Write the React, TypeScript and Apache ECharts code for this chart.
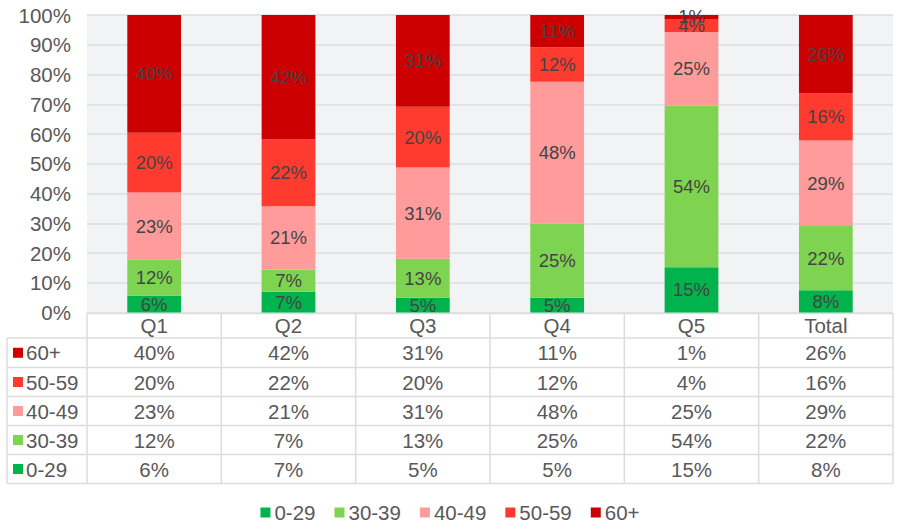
import React, { useEffect, useRef } from "react";
import * as echarts from "echarts";

const categories = ["Q1", "Q2", "Q3", "Q4", "Q5", "Total"];
const seriesNames = ["0-29", "30-39", "40-49", "50-59", "60+"];
// shares (labels show them rounded)
const v0_29 = [5.6, 6.95, 4.93, 4.93, 15.25, 7.51];
const v30_39 = [12.1, 7.4, 13.1, 24.9, 54.25, 21.6];
const v40_49 = [22.6, 21.4, 30.7, 47.76, 24.78, 28.74];
const v50_59 = [20.1, 22.4, 20.4, 11.55, 4.4, 15.8];
const v60p = [39.6, 41.85, 30.87, 10.86, 1.32, 26.35];
const yTicks = { min: 0, max: 100, interval: 10 };
const colors = ["#00b34c", "#7ed450", "#ff9b9b", "#ff3a2f", "#cc0000"];

const FONT = "Liberation Sans, Arial, Helvetica, sans-serif";
const TEXT = "#595959";
const FS = 20.5;

const pct = (v: number) => `${Math.round(v)}%`;

export default function App() {
  const ref = useRef<HTMLDivElement>(null);
  useEffect(() => {
    if (!ref.current) return;
    const chart = echarts.init(ref.current, null, { renderer: "svg" });
    const values = [v0_29, v30_39, v40_49, v50_59, v60p];

    const W = 900;
    const gridLeft = 87;
    const gridRight = 7;
    const gridTop = 15;
    const gridBottomY = 312.5;
    const plotRight = W - gridRight;
    const colW = (plotRight - gridLeft) / categories.length;
    const rowLines = [338, 367.5, 396.5, 425.5, 454.5, 483.5];
    const headerTop = 313.5;
    const tableLeft = 7;
    const lineStyle = { stroke: "#dcdcdc", lineWidth: 1.5 };

    // table rows: reverse order (60+ on top)
    const rowOrder = [4, 3, 2, 1, 0];

    const graphics: any[] = [];
    graphics.push({ type: "line", shape: { x1: gridLeft, y1: headerTop, x2: plotRight, y2: headerTop }, style: lineStyle, silent: true });
    rowLines.forEach((y) => {
      graphics.push({ type: "line", shape: { x1: tableLeft, y1: y, x2: plotRight, y2: y }, style: lineStyle, silent: true });
    });
    graphics.push({ type: "line", shape: { x1: tableLeft, y1: rowLines[0], x2: tableLeft, y2: rowLines[rowLines.length - 1] }, style: lineStyle, silent: true });
    for (let i = 0; i <= categories.length; i++) {
      const x = gridLeft + i * colW;
      graphics.push({ type: "line", shape: { x1: x, y1: headerTop, x2: x, y2: rowLines[rowLines.length - 1] }, style: lineStyle, silent: true });
    }
    rowOrder.forEach((si, r) => {
      const cy = (rowLines[r] + rowLines[r + 1]) / 2;
      graphics.push({ type: "rect", shape: { x: 13, y: cy - 5, width: 10, height: 10 }, style: { fill: colors[si] }, silent: true });
      graphics.push({
        type: "text",
        x: 26,
        y: cy,
        style: { text: seriesNames[si], fill: TEXT, font: `${FS}px ${FONT}`, textVerticalAlign: "middle", textAlign: "left" },
        silent: true,
      });
    });

    const extraAxes = rowOrder.map((si, r) => {
      const cy = (rowLines[r] + rowLines[r + 1]) / 2;
      return {
        type: "category",
        data: categories,
        position: "bottom",
        offset: cy - gridBottomY,
        axisLine: { show: false },
        axisTick: { show: false },
        axisLabel: {
          margin: 0,
          verticalAlign: "middle",
          color: TEXT,
          fontSize: FS,
          fontFamily: FONT,
          interval: 0,
          formatter: (_v: string, idx: number) => pct(values[si][idx]),
        },
      };
    });

    chart.setOption({
      animation: false,
      backgroundColor: "#ffffff",
      grid: {
        left: gridLeft,
        right: gridRight,
        top: gridTop,
        bottom: 532 - gridBottomY,
        show: true,
        backgroundColor: "#f2f3f5",
        borderWidth: 0,
      },
      legend: {
        data: seriesNames,
        top: 497,
        left: "center",
        itemWidth: 10,
        itemHeight: 10,
        itemGap: 19,
        icon: "rect",
        textStyle: { color: TEXT, fontSize: FS, fontFamily: FONT, padding: [0, 0, 0, -1] },
      },
      xAxis: [
        {
          type: "category",
          data: categories,
          axisLine: { show: false },
          axisTick: { show: false },
          axisLabel: {
            margin: 0,
            verticalAlign: "middle",
            color: TEXT,
            fontSize: FS,
            fontFamily: FONT,
            interval: 0,
          },
          offset: (headerTop + rowLines[0]) / 2 - gridBottomY,
        },
        ...extraAxes,
      ],
      yAxis: {
        type: "value",
        min: yTicks.min,
        max: yTicks.max,
        interval: yTicks.interval,
        axisLine: { show: false },
        axisTick: { show: false },
        axisLabel: {
          formatter: "{value}%",
          color: TEXT,
          fontSize: FS,
          fontFamily: FONT,
          margin: 16,
        },
        splitLine: { lineStyle: { color: "#dedede", width: 1.5 } },
      },
      series: seriesNames.map((name, i) => ({
        name,
        type: "bar",
        stack: "total",
        barWidth: "40%",
        data: values[i],
        itemStyle: { color: colors[i] },
        label: {
          show: true,
          position: "inside",
          formatter: (p: any) => pct(p.value),
          color: "#444444",
          fontSize: 18.5,
          fontFamily: FONT,
        },
      })),
      graphic: graphics,
    });
    return () => chart.dispose();
  }, []);
  return <div ref={ref} style={{ position: "fixed", left: 0, top: 0, width: 900, height: 532 }} />;
}
